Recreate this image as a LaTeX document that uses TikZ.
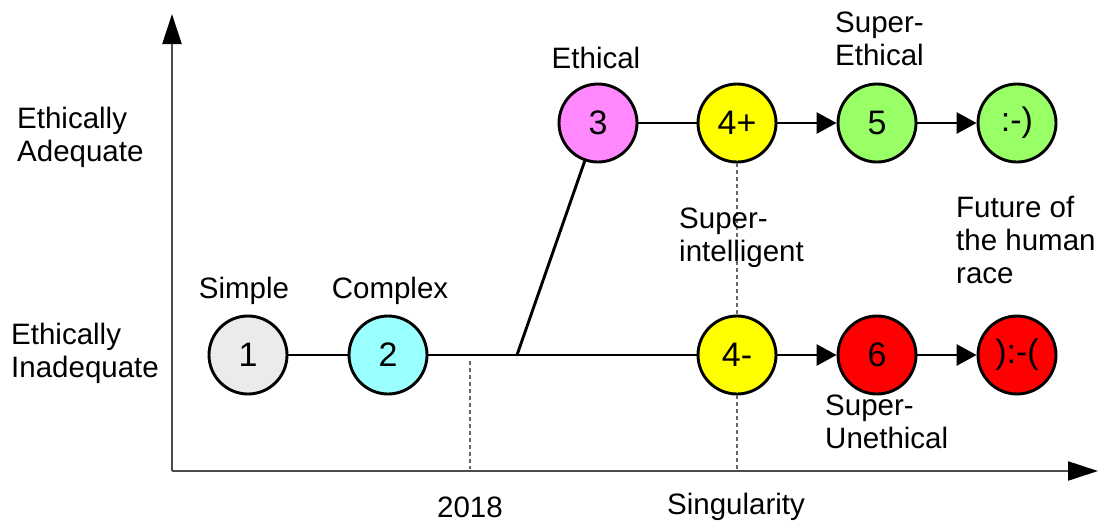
\documentclass[tikz,border=0pt]{standalone}
\usepackage{fontspec}
\setmainfont{Liberation Sans}
\usetikzlibrary{arrows.meta}
\begin{document}
\begin{tikzpicture}[x=1pt,y=-1pt,
  stage/.style={circle,draw=black,line width=2.9pt,minimum size=78pt,inner sep=0pt,font=\fontsize{34}{38}\selectfont},
  lbl/.style={font=\fontsize{29.5}{33}\selectfont,inner sep=0pt,align=left},
  link/.style={line width=2.9pt},
  arr/.style={line width=2.9pt,-{Triangle[length=20pt,width=21pt]}},
  axis/.style={line width=2.2pt,draw=black!70,-{Triangle[length=30pt,width=19pt,color=black]}},
  guide/.style={line width=1.6pt,draw=black!60,dash pattern=on 4pt off 3pt}]
\useasboundingbox (0,0) rectangle (1099,525);
% axes
\coordinate (o) at (172,471);
\coordinate (ytip) at (172,14);
\coordinate (xtip) at (1098,471);
\draw[axis] (o) -- (ytip);
\draw[axis] (o) -- (xtip);
% stages
\node[stage,fill={rgb,255:red,235;green,235;blue,235}] (n1) at (248,355) {1};
\node[stage,fill={rgb,255:red,153;green,255;blue,255}] (n2) at (388,355) {2};
\node[stage,fill={rgb,255:red,255;green,136;blue,255}] (n3) at (598,123) {3};
\node[stage,fill={rgb,255:red,255;green,255;blue,0}] (n4p) at (737,123) {4+};
\node[stage,fill={rgb,255:red,153;green,255;blue,102}] (n5) at (877,123) {5};
\node[stage,fill={rgb,255:red,153;green,255;blue,102}] (nh) at (1017,123) {:-)};
\node[stage,fill={rgb,255:red,255;green,255;blue,0}] (n4m) at (737,355) {4-};
\node[stage,fill={rgb,255:red,255;green,0;blue,0}] (n6) at (877,355) {6};
\node[stage,fill={rgb,255:red,255;green,0;blue,0}] (ns) at (1017,355) {):-(};
% connectors
\coordinate (j) at (517,355);
\draw[link] (n1) -- (n2);
\draw[link] (n2) -- (n4m);
\draw[link] (j) -- (n3);
\draw[link] (n3) -- (n4p);
\draw[arr] (n4p) -- (n5);
\draw[arr] (n5) -- (nh);
\draw[arr] (n4m) -- (n6);
\draw[arr] (n6) -- (ns);
% guides
\coordinate (g1) at (470,361);
\coordinate (g1b) at (470,469);
\coordinate (g2b) at (737,469);
\draw[guide] (g1) -- (g1b);
\draw[guide] (n4p.south) -- (n4m.north);
\draw[guide] (n4m.south) -- (g2b);
% labels
\node[lbl,anchor=west] (la) at (17,137) {Ethically\\Adequate};
\node[lbl,anchor=west] (li) at (11,353) {Ethically\\Inadequate};
\node[lbl] (ts) at (244,291) {Simple};
\node[lbl] (tc) at (390,291) {Complex};
\node[lbl] (te) at (596,58) {Ethical};
\node[lbl,anchor=west] (tse) at (835,39) {Super-\\Ethical};
\node[lbl,anchor=west] (tsi) at (679,238) {Super-\\intelligent};
\node[lbl,anchor=west] (tf) at (956,240) {Future of\\the human\\race};
\node[lbl,anchor=west] (tsu) at (825,422) {Super-\\Unethical};
\node[lbl] (t18) at (470,507) {2018};
\node[lbl] (tsg) at (736,507) {Singularity};
\end{tikzpicture}
\end{document}
